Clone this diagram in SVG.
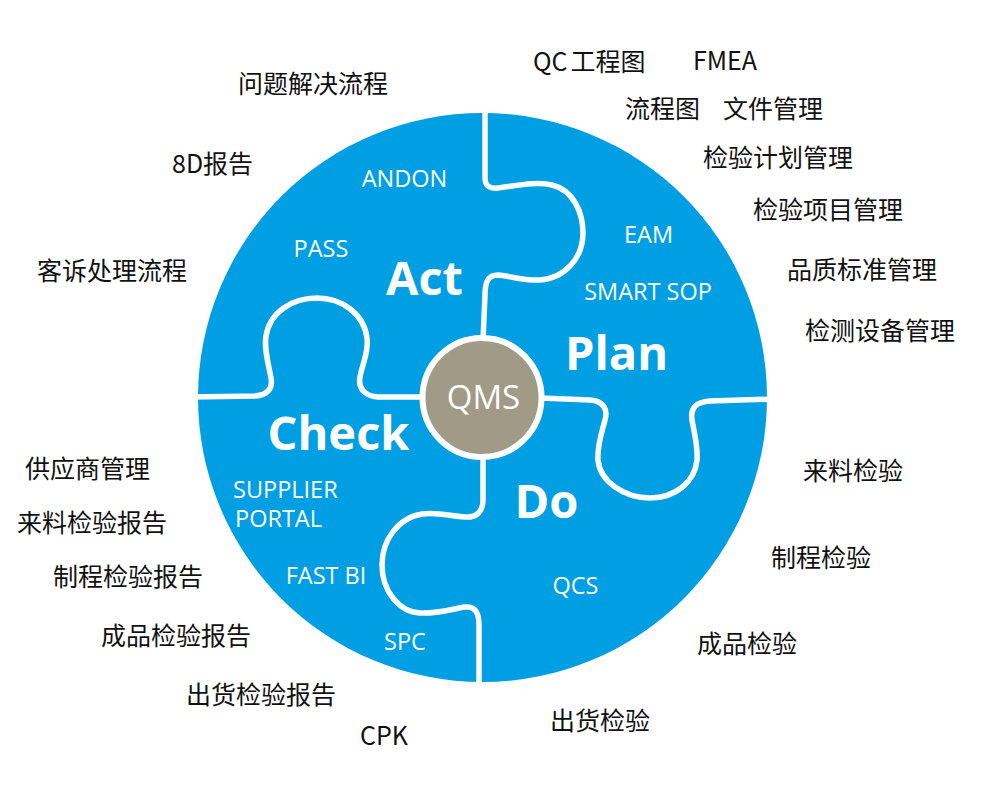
<svg xmlns="http://www.w3.org/2000/svg" width="998" height="799" viewBox="0 0 998 799">
<style>
.big{font-family:"Open Sans","Noto Sans",sans-serif;font-weight:700;font-size:47px;fill:#fff;text-anchor:middle}
.sub{font-family:"Open Sans","Noto Sans",sans-serif;font-weight:400;font-size:23.5px;fill:#fff;text-anchor:middle}
.lbl{font-family:"Noto Sans CJK SC","Noto Sans",sans-serif;font-size:25px;fill:#111}
.cut{fill:none;stroke:#fff;stroke-width:5.5;stroke-linecap:round;stroke-linejoin:round}
</style>
<rect width="998" height="799" fill="#fff"/>
<g id="wheel">
<circle cx="482.5" cy="397.5" r="284.5" fill="#009FE3"/>
</g>
<g id="connectors">
<path class="cut" d="M485 108 L485 178 C485 186 490 189 498 188 C515 186 535 181 552 185 C573 190 583 212 583 233 C583 258 565 278 540 280 C525 281 510 276 498 275 C488 275 485 282 485 295 L483 340"/>
<path class="cut" d="M190 397 L255 396 C268 395 273 388 271 378 C268 362 264 348 266 336 C270 312 292 298 317 298 C342 298 364 314 367 338 C369 352 362 365 360 377 C358 388 364 396 378 397 L425 397"/>
<path class="cut" d="M540 398 L590 400 C604 401 608 410 605 420 C602 432 597 445 598 460 C600 482 625 498 650 498 C675 498 695 482 697 460 C698 445 694 432 692 420 C690 408 696 402 710 401 L775 399"/>
<path class="cut" d="M483 455 L483 500 C483 512 476 518 465 517 C450 516 437 512 422 514 C398 518 382 540 382 565 C382 592 400 612 420 613 C437 614 452 609 465 607 C476 606 479 614 479 625 L479 690"/>
</g>
<g id="qms">
<circle cx="482" cy="397.5" r="59.5" fill="#A09A87" stroke="#fff" stroke-width="6"/>
<text x="483.5" y="409" font-family="Open Sans, Noto Sans, sans-serif" font-size="33" fill="#fff" text-anchor="middle">QMS</text>
</g>
<g id="act">
<text class="big" x="424.5" y="295">Act</text>
<text class="sub" x="404.5" y="187">ANDON</text>
<text class="sub" x="321" y="257">PASS</text>
</g>
<g id="plan">
<text class="big" x="616.5" y="370">Plan</text>
<text class="sub" x="648.5" y="243">EAM</text>
<text class="sub" x="648" y="300">SMART SOP</text>
</g>
<g id="check">
<text class="big" x="338.5" y="450">Check</text>
<text class="sub" style="text-anchor:start"><tspan x="233" y="498">SUPPLIER</tspan><tspan x="235" y="527">PORTAL</tspan></text>
<text class="sub" x="326" y="584">FAST BI</text>
<text class="sub" x="405" y="650">SPC</text>
</g>
<g id="do">
<text class="big" x="546.5" y="518">Do</text>
<text class="sub" x="575.5" y="594">QCS</text>
</g>
<g id="labels-act">
<text class="lbl" x="238" y="92.5">问题解决流程</text>
<text class="lbl" x="172" y="172.5">8D报告</text>
<text class="lbl" x="37" y="279.5">客诉处理流程</text>
</g>
<g id="labels-plan">
<text class="lbl" x="533" y="70.5">QC<tspan dx="3">工程图</tspan></text>
<text class="lbl" x="693" y="70">FMEA</text>
<text class="lbl" x="625" y="117.5">流程图</text>
<text class="lbl" x="723" y="117.5">文件管理</text>
<text class="lbl" x="703" y="166.5">检验计划管理</text>
<text class="lbl" x="753" y="218.5">检验项目管理</text>
<text class="lbl" x="787" y="278.5">品质标准管理</text>
<text class="lbl" x="805" y="339.5">检测设备管理</text>
</g>
<g id="labels-do">
<text class="lbl" x="803" y="479.5">来料检验</text>
<text class="lbl" x="771" y="566.5">制程检验</text>
<text class="lbl" x="697" y="652.5">成品检验</text>
<text class="lbl" x="550" y="729.5">出货检验</text>
</g>
<g id="labels-check">
<text class="lbl" x="25" y="477.5">供应商管理</text>
<text class="lbl" x="17" y="532">来料检验报告</text>
<text class="lbl" x="53" y="586">制程检验报告</text>
<text class="lbl" x="101" y="644.5">成品检验报告</text>
<text class="lbl" x="186" y="703.5">出货检验报告</text>
<text class="lbl" x="360" y="745">CPK</text>
</g>
</svg>
